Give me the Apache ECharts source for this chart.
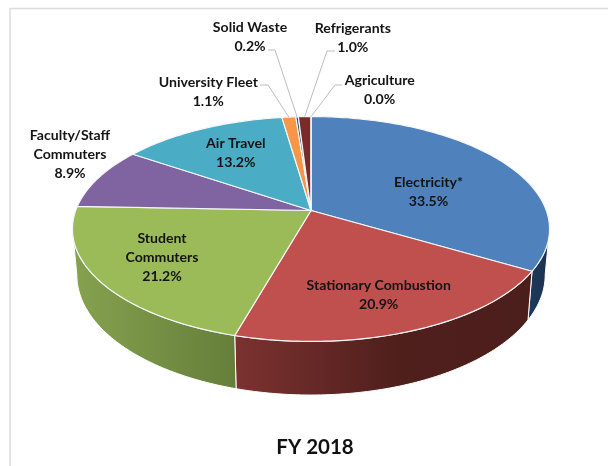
<!DOCTYPE html>
<html>
<head>
<meta charset="utf-8">
<style>html,body{margin:0;padding:0;background:#fff}#c{width:608px;height:466px}</style>
<script src="https://cdn.jsdelivr.net/npm/echarts@6/dist/echarts.min.js"></script>
</head>
<body>
<div id="c"></div>
<script>
const categories = ['Electricity*','Stationary Combustion','Student Commuters','Faculty/Staff Commuters','Air Travel','University Fleet','Solid Waste','Refrigerants','Agriculture'];
const values = [33.5,20.9,21.2,8.9,13.2,1.1,0.2,1.0,0.0];
const labelLines = [['Electricity*'],['Stationary Combustion'],['Student','Commuters'],['Faculty/Staff','Commuters'],['Air Travel'],['University Fleet'],['Solid Waste'],['Refrigerants'],['Agriculture']];
const topColors = ['#4F81BD','#C0504D','#9BBB59','#8064A2','#4BACC6','#F79646','#2C4D75','#772C2A','#5F7530'];
const wallStops = [
  [[0,'#1E3A5C'],[1,'#1A314E']],
  [[0,'#7C3230'],[0.55,'#4F1F1C'],[1,'#4C1E1B']],
  [[0,'#86A24F'],[1,'#657E3A']]
];
const labelCentres = [[428.5,191.5],[378.7,295.3],[162,257],[70,154],[235.8,152.5],[208.3,91.5],[250,37],[352.8,38],[379.7,89.5]];
const leaderStarts = [null,null,null,null,null,[[260,85],[268,85]],[[268,50],[275,50]],[[335,51],[327,51]],[[342,85],[335,85]]];
const titleText = 'FY 2018';

// perspective view of the disc: top face and bottom rim
const cx = 311, persp = -0.1644;
const topFace = {cy:210.5, Sx:235.3, Ay:109.4};
const botFace = {cy:255, Sx:231, Ay:117};
const project = (f, deg) => {
  const t = deg*Math.PI/180, u = Math.sin(t), v = -Math.cos(t), d = 1+persp*v;
  return [cx + f.Sx*u/d, f.cy + f.Ay*v/d];
};
const total = values.reduce((a,b)=>a+b,0);
const cum = [0];
values.forEach(v=>cum.push(cum[cum.length-1]+v));
const ang = p => p/total*360;
const silhouette = [Math.acos(persp)*180/Math.PI, 360-Math.acos(persp)*180/Math.PI];
const arc = (f,a,b) => {
  const n = Math.max(1,Math.ceil(Math.abs(b-a))), pts = [];
  for(let i=0;i<=n;i++) pts.push(project(f,a+(b-a)*i/n));
  return pts;
};
const seriesData = categories.map((c,i)=>({name:c,value:[values[i]]}));
const wallFor = i => {
  const a = Math.max(ang(cum[i]),silhouette[0]), b = Math.min(ang(cum[i+1]),silhouette[1]);
  return a<b ? [a,b] : null;
};
const textColor = '#141414';
const font = 'bold 14.1px Lato, "Open Sans", sans-serif';

const option = {
  animation:false,
  backgroundColor:'#ffffff',
  title:{text:titleText,left:310,top:432,textAlign:'center',
    textStyle:{fontFamily:'Lato',fontWeight:'bold',fontSize:20.5,color:'#111111'}},
  graphic:[{type:'polyline',silent:true,z:0,
    shape:{points:[[10,470],[10,8.5],[612,8.5]]},
    style:{stroke:'#DCDCDC',lineWidth:1.5,fill:null}}],
  series:[
    {type:'custom',name:'Walls',coordinateSystem:'none',z:1,silent:true,data:seriesData,
     renderItem:(p)=>{
       const i=p.dataIndex, r=wallFor(i);
       if(!r) return {type:'group',children:[]};
       const pts=arc(topFace,r[0],r[1]).concat(arc(botFace,r[0],r[1]).reverse());
       const stops=(wallStops[i]||[[0,topColors[i]],[1,topColors[i]]]).map(s=>({offset:s[0],color:s[1]}));
       return {type:'polygon',shape:{points:pts},style:{
         fill:{type:'linear',x:0,y:0,x2:1,y2:0,colorStops:stops},stroke:'#ffffff',lineWidth:1}};
     }},
    {type:'custom',name:'Faces',coordinateSystem:'none',z:2,silent:true,data:seriesData,
     renderItem:(p)=>{
       const i=p.dataIndex;
       const pts=[[cx,topFace.cy]].concat(arc(topFace,ang(cum[i]),ang(cum[i+1])));
       return {type:'polygon',shape:{points:pts},style:{fill:topColors[i],stroke:'#F4F6F8',lineWidth:1.2}};
     }},
    {type:'custom',name:'Labels',coordinateSystem:'none',z:3,silent:true,data:seriesData,
     renderItem:(p)=>{
       const i=p.dataIndex, children=[];
       if(leaderStarts[i]){
         const end=project(topFace,ang((cum[i]+cum[i+1])/2));
         children.push({type:'polyline',shape:{points:leaderStarts[i].concat([end])},
           style:{stroke:'#BDBDBD',lineWidth:1,fill:null}});
       }
       children.push({type:'text',style:{
         x:labelCentres[i][0],y:labelCentres[i][1],
         text:labelLines[i].concat([values[i].toFixed(1)+'%']).join('\n'),
         align:'center',verticalAlign:'middle',font:font,lineHeight:19,fill:textColor}});
       return {type:'group',children};
     }}
  ]
};
echarts.init(document.getElementById('c'),null,{renderer:'canvas'}).setOption(option);
</script>
</body>
</html>
